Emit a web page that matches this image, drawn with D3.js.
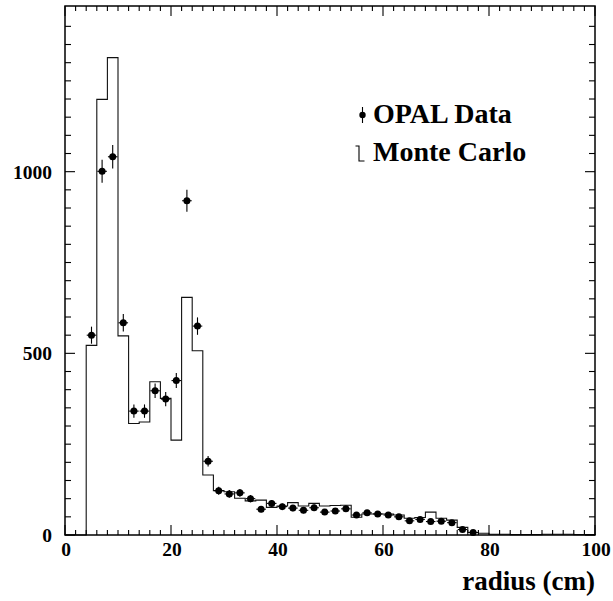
<!DOCTYPE html>
<html>
<head>
<meta charset="utf-8">
<script src="https://cdn.jsdelivr.net/npm/d3@7"></script>
<style>
  body { margin: 0; background: #fff; }
  svg { font-family: "Liberation Serif", "DejaVu Serif", serif; font-weight: bold; }
</style>
</head>
<body>
<div id="chart"></div>
<script>
// Monte Carlo histogram: bin edges every 2 cm from 0 to 100
var binEdges = d3.range(0, 101, 2);
var mcCounts = [0, 0, 522, 1199, 1314, 548, 307, 311, 422, 376,
                261, 654, 507, 165, 122, 119, 101, 94, 96, 76,
                80, 89, 80, 87, 80, 81, 82, 49, 58, 58,
                58, 55, 46, 48, 63, 46, 41, 21, 7, 5,
                2, 2, 1, 1, 1, 2, 2, 2, 1, 1];

// OPAL data points (bin centres)
var dataRadius = [5, 7, 9, 11, 13, 15, 17, 19, 21, 23, 25, 27, 29, 31, 33, 35, 37, 39, 41,
                  43, 45, 47, 49, 51, 53, 55, 57, 59, 61, 63, 65, 67, 69, 71, 73, 75, 77];
var dataCounts = [550, 1001, 1041, 584, 341, 341, 397, 374, 425, 920, 575, 203, 122, 113, 116, 100, 71, 87, 78,
                  74, 68, 75, 63, 66, 72, 55, 61, 58, 55, 50, 39, 43, 37, 38, 34, 15, 7];

var xTickLabels = [0, 20, 40, 60, 80, 100];
var yTickLabels = [0, 500, 1000];

var svgWidth = 613;
var svgHeight = 601;
var margin = { top: 6, right: 18, bottom: 66, left: 65 };
var chartWidth = svgWidth - margin.left - margin.right;
var chartHeight = svgHeight - margin.top - margin.bottom;

var svg = d3.select("#chart")
    .append("svg")
    .attr("width", svgWidth)
    .attr("height", svgHeight);

var chartGroup = svg.append("g")
    .attr("transform", `translate(${margin.left}, ${margin.top})`);

var xScale = d3.scaleLinear().domain([0, 100]).range([0, chartWidth]);
var yScale = d3.scaleLinear().domain([0, 1456]).range([chartHeight, 0]);

// Histogram outline (step line)
var steps = [[binEdges[0], 0]];
mcCounts.forEach(function(c, i) {
    steps.push([binEdges[i], c]);
    steps.push([binEdges[i + 1], c]);
});
steps.push([binEdges[binEdges.length - 1], 0]);

chartGroup.append("path")
    .datum(steps)
    .attr("fill", "none")
    .attr("stroke", "#111")
    .attr("stroke-width", 1.1)
    .attr("d", d3.line().x(d => xScale(d[0])).y(d => yScale(d[1])));

// Frame
chartGroup.append("rect")
    .attr("width", chartWidth)
    .attr("height", chartHeight)
    .attr("fill", "none")
    .attr("stroke", "#000")
    .attr("stroke-width", 1.5);

// Ticks: bottom/top every 2, long every 20; left/right every 50, long every 500
var xMinor = d3.range(0, 101, 2);
var yMinor = d3.range(0, 1401, 50);

function xLen(v) { return v % 20 === 0 ? 10 : 5; }
function yLen(v) { return v % 500 === 0 ? 10 : 6; }

var ticks = chartGroup.append("g").attr("stroke", "#000").attr("stroke-width", 1.1);
ticks.selectAll(".xb").data(xMinor).enter().append("line")
    .attr("x1", d => xScale(d)).attr("x2", d => xScale(d))
    .attr("y1", chartHeight).attr("y2", d => chartHeight - xLen(d));
ticks.selectAll(".xt").data(xMinor).enter().append("line")
    .attr("x1", d => xScale(d)).attr("x2", d => xScale(d))
    .attr("y1", 0).attr("y2", d => xLen(d));
ticks.selectAll(".yl").data(yMinor).enter().append("line")
    .attr("y1", d => yScale(d)).attr("y2", d => yScale(d))
    .attr("x1", 0).attr("x2", d => yLen(d));
ticks.selectAll(".yr").data(yMinor).enter().append("line")
    .attr("y1", d => yScale(d)).attr("y2", d => yScale(d))
    .attr("x1", chartWidth).attr("x2", d => chartWidth - yLen(d));

// Tick labels
chartGroup.selectAll(".xlab").data(xTickLabels).enter().append("text")
    .attr("x", d => xScale(d) + 1)
    .attr("y", chartHeight + 21)
    .attr("text-anchor", "middle")
    .attr("font-size", 19.5)
    .text(d => d);

chartGroup.selectAll(".ylab").data(yTickLabels).enter().append("text")
    .attr("x", -13)
    .attr("y", d => yScale(d) + 7)
    .attr("text-anchor", "end")
    .attr("font-size", 19.5)
    .text(d => d);

// Axis title
chartGroup.append("text")
    .attr("x", chartWidth)
    .attr("y", chartHeight + 55)
    .attr("text-anchor", "end")
    .attr("font-size", 27)
    .text("radius (cm)");

// Data points with error bars
var points = chartGroup.append("g");
dataRadius.forEach(function(r, i) {
    var n = dataCounts[i];
    var err = Math.sqrt(n);
    points.append("line")
        .attr("x1", xScale(r)).attr("x2", xScale(r))
        .attr("y1", yScale(n - err)).attr("y2", yScale(n + err))
        .attr("stroke", "#000").attr("stroke-width", 1.1);
    points.append("line")
        .attr("x1", xScale(r - 0.9)).attr("x2", xScale(r + 0.9))
        .attr("y1", yScale(n)).attr("y2", yScale(n))
        .attr("stroke", "#000").attr("stroke-width", 1.1);
    points.append("circle")
        .attr("cx", xScale(r)).attr("cy", yScale(n))
        .attr("r", 3.5)
        .attr("fill", "#000");
});

// Legend
var legend = svg.append("g");
legend.append("line")
    .attr("x1", 362.5).attr("x2", 362.5).attr("y1", 107).attr("y2", 123)
    .attr("stroke", "#000").attr("stroke-width", 1.1);
legend.append("circle")
    .attr("cx", 362.5).attr("cy", 115).attr("r", 3.2).attr("fill", "#000");
legend.append("text")
    .attr("x", 373).attr("y", 123)
    .attr("font-size", 28)
    .text("OPAL Data");

legend.append("path")
    .attr("d", "M355.5,146 H359 V161 H364.5")
    .attr("fill", "none")
    .attr("stroke", "#000").attr("stroke-width", 1.1);
legend.append("text")
    .attr("x", 373).attr("y", 161)
    .attr("font-size", 28)
    .text("Monte Carlo");
</script>
</body>
</html>
